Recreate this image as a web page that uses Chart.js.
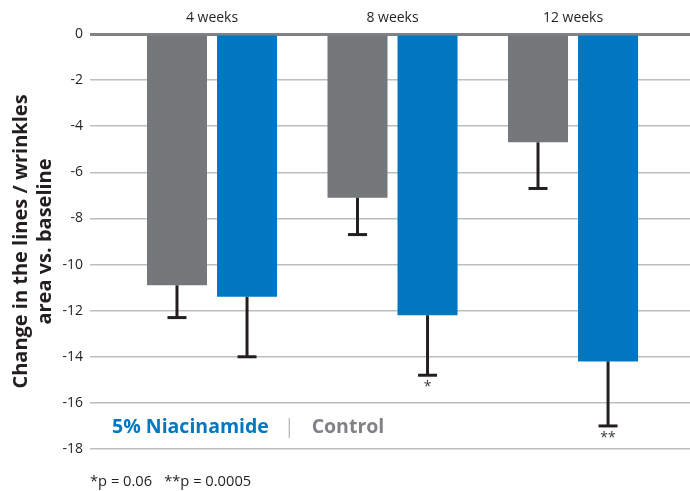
<!DOCTYPE html>
<html>
<head>
<meta charset="utf-8">
<script src="https://cdn.jsdelivr.net/npm/chart.js@4/dist/chart.umd.min.js"></script>
<style>
  html, body { margin: 0; padding: 0; background: #fff; }
  #wrap { position: relative; width: 690px; height: 491px; font-family: "Open Sans", sans-serif; }
  #c { position: absolute; left: 0; top: 0; }
  #legend { position: absolute; left: 112px; top: 412px; font-size: 19.5px; font-weight: 700; white-space: nowrap; }
  #legend .n { color: #0077c0; }
  #legend .sep { color: #b8babc; font-weight: 400; margin: 0 17px 0 15px; }
  #legend .c { color: #808285; }
  #foot { position: absolute; left: 90px; top: 470px; font-size: 14.7px; color: #231f20; white-space: nowrap; }
  #foot .gap { display: inline-block; width: 12px; }
</style>
</head>
<body>
<div id="wrap">
  <canvas id="c" width="690" height="491"></canvas>
  <div id="legend"><span class="n">5% Niacinamide</span><span class="sep">|</span><span class="c">Control</span></div>
  <div id="foot">*p = 0.06<span class="gap"></span>**p = 0.0005</div>
</div>
<script>
const categories = ['4 weeks', '8 weeks', '12 weeks'];
const controlValues = [-10.9, -7.1, -4.7];
const niacinamideValues = [-11.4, -12.2, -14.2];
const controlErrorEnds = [-12.3, -8.7, -6.7];
const niacinamideErrorEnds = [-14.0, -14.8, -17.0];
const niacinamideSignificance = ['', '*', '**'];
const yTicks = [0, -2, -4, -6, -8, -10, -12, -14, -16, -18];

const FONT = '"Open Sans", sans-serif';
const positions = categories.map((_, i) => i + 1);
const errorEnds = [controlErrorEnds, niacinamideErrorEnds];
const significance = [['', '', ''], niacinamideSignificance];

const errorBars = {
  id: 'errorBars',
  afterDatasetsDraw(chart) {
    const ctx = chart.ctx;
    const ys = chart.scales.y;
    ctx.save();
    ctx.strokeStyle = '#231f20';
    ctx.lineWidth = 3;
    chart.data.datasets.forEach((ds, di) => {
      const meta = chart.getDatasetMeta(di);
      meta.data.forEach((bar, i) => {
        const x = bar.x;
        const y0 = bar.y;
        const y1 = ys.getPixelForValue(errorEnds[di][i]);
        ctx.beginPath();
        ctx.moveTo(x, y0);
        ctx.lineTo(x, y1);
        ctx.stroke();
        ctx.beginPath();
        ctx.moveTo(x - 9.5, y1);
        ctx.lineTo(x + 9.5, y1);
        ctx.stroke();
        const s = significance[di][i];
        if (s) {
          ctx.fillStyle = '#3a3a3a';
          ctx.font = '14px ' + FONT;
          ctx.textAlign = 'center';
          ctx.textBaseline = 'top';
          ctx.fillText(s, x, y1 + 5);
        }
      });
    });
    ctx.restore();
  }
};

new Chart(document.getElementById('c'), {
  type: 'bar',
  data: {
    datasets: [
      {
        label: 'Control',
        data: positions.map((p, i) => ({ x: p, y: controlValues[i] })),
        backgroundColor: '#75787b',
        barPercentage: 0.857,
        categoryPercentage: 0.776
      },
      {
        label: '5% Niacinamide',
        data: positions.map((p, i) => ({ x: p, y: niacinamideValues[i] })),
        backgroundColor: '#0077c0',
        barPercentage: 0.857,
        categoryPercentage: 0.776
      }
    ]
  },
  options: {
    responsive: false,
    animation: false,
    layout: { padding: { left: 0, right: 0, top: 0, bottom: 42 } },
    plugins: { legend: { display: false }, tooltip: { enabled: false } },
    scales: {
      x: {
        type: 'linear',
        position: 'top',
        offset: false,
        min: 0.3241,
        max: 3.648,
        afterBuildTicks(scale) { scale.ticks = positions.map(v => ({ value: v })); },
        afterFit(scale) { scale.height = 34; },
        grid: { display: false, drawTicks: false, offset: false },
        border: { display: false },
        ticks: {
          padding: 8,
          color: '#231f20',
          font: { family: FONT, size: 14 },
          callback: (v) => categories[Math.round(v) - 1] || ''
        }
      },
      y: {
        min: -18,
        max: 0,
        afterBuildTicks(scale) { scale.ticks = yTicks.map(v => ({ value: v })); },
        afterFit(scale) { scale.width = 90; },
        border: { display: false },
        grid: {
          drawTicks: false,
          color: (c) => c.tick && c.tick.value === 0 ? '#808285' : '#bcbec0',
          lineWidth: (c) => c.tick && c.tick.value === 0 ? 3 : 1.5
        },
        ticks: {
          padding: 7,
          color: '#231f20',
          font: { family: FONT, size: 14 }
        },
        title: {
          display: true,
          text: ['Change in the lines / wrinkles', 'area vs. baseline'],
          color: '#231f20',
          font: { family: FONT, size: 20, weight: 'bold', lineHeight: 1.2 },
          padding: { top: 9, bottom: 0 }
        }
      }
    }
  },
  plugins: [errorBars]
});
</script>
</body>
</html>
